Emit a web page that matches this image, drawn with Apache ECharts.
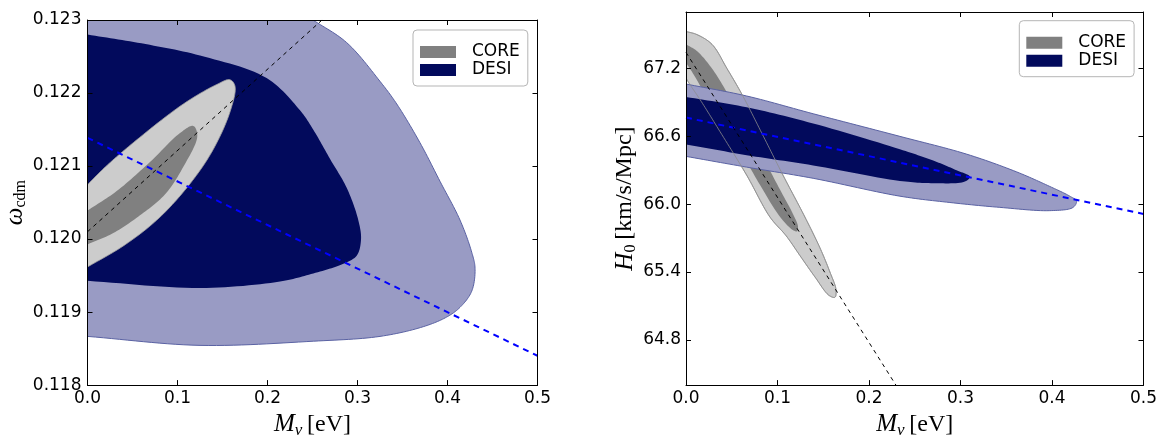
<!DOCTYPE html>
<html><head><meta charset="utf-8">
<script src="https://cdn.jsdelivr.net/npm/echarts@6/dist/echarts.min.js"></script>
<style>html,body{margin:0;padding:0;background:#fff}#c{width:1160px;height:444px}</style>
</head><body><div id="c"></div>
<script>
// ---------- data ----------
// Left panel: M_nu [eV] vs omega_cdm. Each contour is its curved boundary; it is closed along the plot edge.
const leftDesiOuter = [[0.2506,0.123],[0.288,0.12269],[0.325,0.12216],[0.3436,0.12185],[0.3694,0.12132],[0.3917,0.12079],[0.4139,0.12026],[0.4269,0.11982],[0.4306,0.1196],[0.4269,0.119286],[0.4139,0.119065],[0.3991,0.118932],[0.3731,0.1188],[0.325,0.118667],[0.2509,0.118601],[0.125,0.118544],[0,0.118667]];
const leftDesiOuterCorner = [[0,0.123]];
const leftDesiInner = [[0,0.1228],[0.06,0.12268],[0.125,0.122513],[0.199,0.122204],[0.2361,0.121763],[0.2509,0.121497],[0.2694,0.121099],[0.288,0.120702],[0.3009,0.120259],[0.3039,0.119993],[0.2991,0.119773],[0.2843,0.119662],[0.2509,0.119529],[0.2139,0.119419],[0.125,0.11933],[0,0.119428]];
const leftCoreOuter = [[0,0.120745],[0.02,0.12099],[0.0509,0.12132],[0.1065,0.12185],[0.1435,0.122116],[0.1583,0.122182],[0.1639,0.122094],[0.1583,0.12174],[0.138,0.12119],[0.1102,0.1207],[0.077,0.12026],[0.0398,0.119906],[0,0.119618]];
const leftCoreInner = [[0,0.120391],[0.0324,0.120657],[0.0694,0.121055],[0.1028,0.121452],[0.1176,0.12155],[0.122,0.121408],[0.1065,0.12099],[0.086,0.12061],[0.0583,0.120325],[0.0287,0.120082],[0,0.119927]];
const leftBlueLine = [[0,0.121386],[0.5,0.118402]];
const leftBlackLine = [[0,0.1201],[0.2606,0.123]];

// Right panel: M_nu [eV] vs H0
const rightDesiOuter = [[0,67.063],[0.0663,66.957],[0.139,66.8],[0.2338,66.6],[0.3066,66.443],[0.3613,66.286],[0.3976,66.157],[0.4195,66.071],[0.4268,66.028],[0.4231,65.972],[0.3976,65.943],[0.343,65.972],[0.2884,66.015],[0.2338,66.071],[0.139,66.229],[0.0663,66.328],[0,66.423]];
const rightDesiInner = [[0,66.949],[0.0663,66.857],[0.139,66.714],[0.2338,66.486],[0.2702,66.386],[0.2957,66.3],[0.3102,66.243],[0.3048,66.2],[0.2702,66.186],[0.2338,66.206],[0.139,66.343],[0.0663,66.434],[0,66.529]];
const rightCoreOuter = [[0,67.528],[0.012,67.5],[0.0284,67.414],[0.0448,67.2],[0.0612,66.971],[0.083,66.626],[0.106,66.257],[0.13,65.886],[0.1464,65.614],[0.1573,65.4],[0.1639,65.246],[0.1628,65.177],[0.1562,65.194],[0.1409,65.357],[0.1245,65.546],[0.1095,65.72],[0.0918,65.886],[0.0663,66.257],[0.0371,66.643],[0.0153,66.926],[0.0044,67.057],[0,67.114]];
const rightCoreInner = [[0,67.414],[0.012,67.354],[0.0284,67.2],[0.0481,66.943],[0.0776,66.514],[0.1027,66.129],[0.1169,65.914],[0.1224,65.803],[0.1213,65.76],[0.1158,65.777],[0.1027,65.889],[0.0808,66.171],[0.0535,66.557],[0.0262,66.9],[0.0076,67.157],[0,67.251]];
const rightBlueLine = [[0,66.766],[0.5,65.914]];
const rightBlackLine = [[0,67.343],[0.2294,64.4]];

const rightYTicks = [64.8, 65.4, 66.0, 66.6, 67.2];
const legendNames = ['CORE', 'DESI'];

// ---------- styling ----------
const C = {
  desiOuter:'#999bc4', desiInner:'#020a5c', desiEdge:'#5a62a3',
  coreOuter:'#cccccc', coreInner:'#808080', coreEdge:'#a0a0a0', coreLine:'#8c8c8c'
};

// centripetal Catmull-Rom through pixel points (open curve)
function smoothCurve(P) {
  const n = P.length;
  if (n < 3) return P.slice();
  const ext = [[2*P[0][0]-P[1][0], 2*P[0][1]-P[1][1]]].concat(P, [[2*P[n-1][0]-P[n-2][0], 2*P[n-1][1]-P[n-2][1]]]);
  function knot(a, b) { return Math.max(Math.sqrt(Math.hypot(b[0]-a[0], b[1]-a[1])), 1e-4); }
  function lerp(a, b, ta, tb, t) {
    const u = (t - ta) / (tb - ta);
    return [a[0] + (b[0]-a[0])*u, a[1] + (b[1]-a[1])*u];
  }
  const out = [];
  for (let i = 1; i < ext.length - 2; i++) {
    const p0 = ext[i-1], p1 = ext[i], p2 = ext[i+1], p3 = ext[i+2];
    const t0 = 0, t1 = t0 + knot(p0,p1), t2 = t1 + knot(p1,p2), t3 = t2 + knot(p2,p3);
    const steps = 14;
    for (let k = 0; k < steps; k++) {
      const t = t1 + (t2 - t1) * k / steps;
      const A1 = lerp(p0,p1,t0,t1,t), A2 = lerp(p1,p2,t1,t2,t), A3 = lerp(p2,p3,t2,t3,t);
      const B1 = lerp(A1,A2,t0,t2,t), B2 = lerp(A2,A3,t1,t3,t);
      out.push(lerp(B1,B2,t1,t2,t));
    }
  }
  out.push(P[n-1]);
  return out;
}

function poly(name, pts, corner, ai, fill, stroke, lw, z) {
  return {
    type:'custom', name:name, coordinateSystem:'cartesian2d',
    xAxisIndex:ai, yAxisIndex:ai, clip:true, silent:true, z:z||2,
    data:[0],
    renderItem:function(params, api){
      const curve = smoothCurve(pts.map(function(p){return api.coord(p);}));
      const tail = (corner || []).map(function(p){return api.coord(p);});
      return {
        type:'polygon',
        shape:{points:curve.concat(tail)},
        style:{fill:fill||'none', stroke:stroke||'none', lineWidth:lw||0}
      };
    }
  };
}
function dline(name, pts, ai, color, width, dash) {
  return {type:'line', name:name, xAxisIndex:ai, yAxisIndex:ai, data:pts, symbol:'none',
    silent:true, clip:true, z:6, lineStyle:{color:color, width:width, type:dash}};
}

const tickFont = {fontFamily:'DejaVu Sans', fontSize:17, color:'#000'};
const rich = {
  i:{fontFamily:'Liberation Serif', fontStyle:'italic', fontSize:25, color:'#000'},
  s:{fontFamily:'Liberation Serif', fontStyle:'italic', fontSize:17, color:'#000', padding:[12,0,0,0]},
  sr:{fontFamily:'Liberation Serif', fontSize:16, color:'#000', padding:[12,0,0,0]},
  r:{fontFamily:'Liberation Serif', fontSize:24, color:'#000'}
};
function baseAxis(extra) {
  return Object.assign({
    type:'value', z:8,
    axisLine:{show:true, onZero:false, lineStyle:{color:'#000', width:1}},
    axisTick:{show:true, inside:true, length:5, lineStyle:{color:'#000', width:1}},
    splitLine:{show:false}
  }, extra);
}
const xName = '{i|M}{s|ν}{r|\u2009[eV]}';

const xAxes = [
  baseAxis({gridIndex:0, position:'bottom', min:0, max:0.5, interval:0.1,
    axisLabel:Object.assign({margin:5, formatter:function(v){return v.toFixed(1);}}, tickFont),
    name:xName, nameLocation:'middle', nameGap:15, nameTextStyle:{rich:rich}}),
  baseAxis({gridIndex:0, position:'top', min:0, max:0.5, interval:0.1, axisLabel:{show:false}}),
  baseAxis({gridIndex:1, position:'bottom', min:0, max:0.5, interval:0.1,
    axisLabel:Object.assign({margin:5, formatter:function(v){return v.toFixed(1);}}, tickFont),
    name:xName, nameLocation:'middle', nameGap:15, nameTextStyle:{rich:rich}}),
  baseAxis({gridIndex:1, position:'top', min:0, max:0.5, interval:0.1, axisLabel:{show:false}})
];
const yAxes = [
  baseAxis({gridIndex:0, position:'left', min:0.118, max:0.123, interval:0.001,
    axisLabel:Object.assign({margin:6, formatter:function(v){return v.toFixed(3);}}, tickFont),
    name:'{i|ω}{sr|cdm}', nameLocation:'middle', nameRotate:90, nameGap:57, nameTextStyle:{rich:rich}}),
  baseAxis({gridIndex:0, position:'right', min:0.118, max:0.123, interval:0.001, axisLabel:{show:false}}),
  baseAxis({gridIndex:1, position:'left', min:64.4, max:67.7,
    axisTick:{show:true, inside:true, length:5, lineStyle:{color:'#000'}, customValues:rightYTicks},
    axisLabel:Object.assign({margin:5, customValues:rightYTicks, formatter:function(v){return v.toFixed(1);}}, tickFont),
    name:'{i|H}{sr|0}{r|\u2009[km/s/Mpc]}', nameLocation:'middle', nameRotate:90, nameGap:47, nameTextStyle:{rich:rich}}),
  baseAxis({gridIndex:1, position:'right', min:64.4, max:67.7,
    axisTick:{show:true, inside:true, length:5, lineStyle:{color:'#000'}, customValues:rightYTicks},
    axisLabel:{show:false}})
];

function legendAt(left, top) {
  return {
    left:left, top:top, orient:'vertical', icon:'rect', itemWidth:36, itemHeight:12, itemGap:0, z:10,
    padding:[13,8,7,7], borderColor:'#b5b5b5', borderWidth:1, borderRadius:4, selectedMode:false,
    backgroundColor:'#fff',
    textStyle:Object.assign({lineHeight:18, padding:[0,0,0,11]}, tickFont),
    data:[{name:legendNames[0], itemStyle:{color:C.coreInner}}, {name:legendNames[1], itemStyle:{color:C.desiInner}}]
  };
}

const option = {
  animation:false,
  backgroundColor:'#fff',
  grid:[
    {left:87.5, top:20, width:450, height:377},
    {left:686, top:12, width:457.7, height:385}
  ],
  xAxis:xAxes,
  yAxis:yAxes,
  legend:[legendAt(413,30), legendAt(1019.3,20.7)],
  series:[
    // left panel: DESI underneath, CORE on top
    poly('DESI', leftDesiOuter, leftDesiOuterCorner, 0, C.desiOuter, C.desiEdge, 1, 2),
    poly('DESI', leftDesiInner, null, 0, C.desiInner, null, 0, 3),
    poly('CORE', leftCoreOuter, null, 0, C.coreOuter, C.coreEdge, 0.8, 4),
    poly('CORE', leftCoreInner, null, 0, C.coreInner, null, 0, 5),
    dline('fitBlueL', leftBlueLine, 0, '#0000ff', 2, [6,5]),
    dline('fitBlackL', leftBlackLine, 0, '#000000', 1, [4,4]),
    // right panel: CORE underneath, DESI on top, CORE edge visible through
    poly('CORE', rightCoreOuter, null, 2, C.coreOuter, C.coreEdge, 0.8, 2),
    poly('CORE', rightCoreInner, null, 2, C.coreInner, null, 0, 3),
    poly('DESI', rightDesiOuter, null, 2, C.desiOuter, C.desiEdge, 1, 4),
    poly('DESI', rightDesiInner, null, 2, C.desiInner, null, 0, 5),
    poly('CORE', rightCoreOuter, null, 2, null, C.coreLine, 0.8, 5),
    dline('fitBlueR', rightBlueLine, 2, '#0000ff', 2, [6,5]),
    dline('fitBlackR', rightBlackLine, 2, '#000000', 1, [4,4])
  ]
};
const chart = echarts.init(document.getElementById('c'));
chart.setOption(option);
</script>
</body></html>
